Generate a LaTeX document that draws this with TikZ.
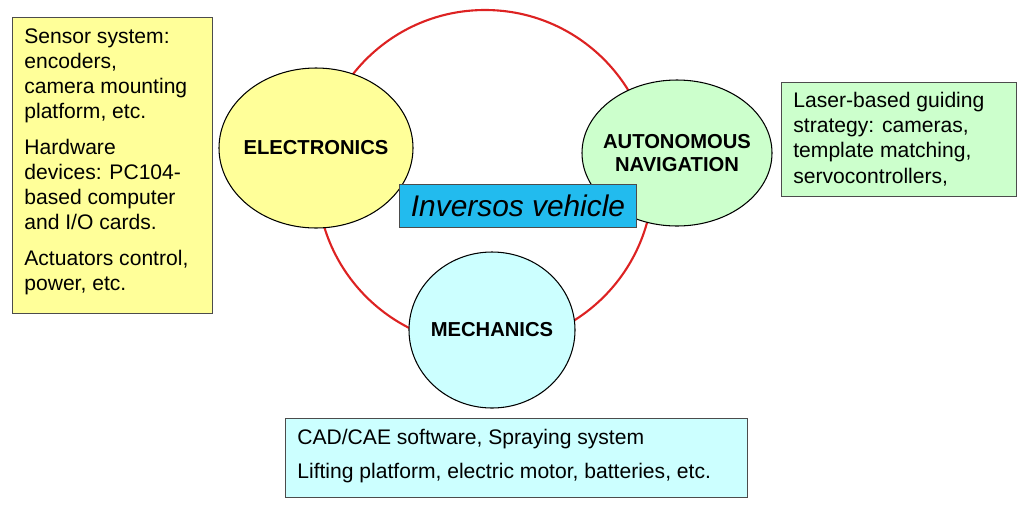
\documentclass[tikz,border=0pt]{standalone}
\usepackage{fontspec}
\setmainfont{Liberation Sans}
\usetikzlibrary{shapes.geometric}
\definecolor{elecyellow}{HTML}{FFFF99}
\definecolor{navgreen}{HTML}{CCFFCC}
\definecolor{mechcyan}{HTML}{CCFFFF}
\definecolor{vehblue}{HTML}{22BBEE}
\definecolor{ringred}{HTML}{DD2222}
\tikzset{
  subsys/.style={ellipse,draw=black,semithick,inner sep=0pt,
    label={[font=\bfseries\fontsize{11.5}{13}\selectfont,align=center]center:#1}},
  infobox/.style={draw=black!70,anchor=north west,inner sep=0pt},
  infotext/.style={anchor=north west,align=left,font=\fontsize{12}{14.3}\selectfont,inner sep=0pt}
}
\begin{document}
\begin{tikzpicture}[x=0.02cm,y=-0.02cm]
    \useasboundingbox (0,0) rectangle (1024,508);
    % ring
    \draw[ringred,line width=1.2pt] (485,178) circle (168);
    % subsystems
    \node[subsys={ELECTRONICS},fill=elecyellow,minimum width=194*0.02cm,minimum height=160*0.02cm] (elec) at (316,148) {};
    \node[subsys={AUTONOMOUS\\NAVIGATION},fill=navgreen,minimum width=190*0.02cm,minimum height=146*0.02cm] (nav) at (677,153) {};
    \node[subsys={MECHANICS},fill=mechcyan,minimum width=166*0.02cm,minimum height=156*0.02cm] (mech) at (492,330) {};
    \node[draw=black!70,fill=vehblue,minimum width=237*0.02cm,minimum height=43*0.02cm,
      font=\itshape\fontsize{17}{20}\selectfont] (veh) at (518,206) {Inversos vehicle};
    % description boxes
    \node[infobox,fill=elecyellow,minimum width=200*0.02cm,minimum height=296*0.02cm] (elecbox) at (12,17) {};
    \node[infotext] (electext) at (24,28) {Sensor system:\\encoders,\\camera mounting\\platform, etc.\\[6pt]
      Hardware\\devices: PC104-\\based computer\\and I/O cards.\\[6pt]Actuators control,\\power, etc.};
    \node[infobox,fill=navgreen,minimum width=235*0.02cm,minimum height=114*0.02cm] (navbox) at (781,82) {};
    \node[infotext] (navtext) at (793,92) {Laser-based guiding\\strategy: cameras,\\template matching,\\servocontrollers,};
    \node[infobox,fill=mechcyan,minimum width=462*0.02cm,minimum height=79*0.02cm] (mechbox) at (285,418) {};
    \node[infotext] (mechtext) at (297,429) {CAD/CAE software, Spraying system\\[5pt]Lifting platform, electric motor, batteries, etc.};
\end{tikzpicture}
\end{document}
